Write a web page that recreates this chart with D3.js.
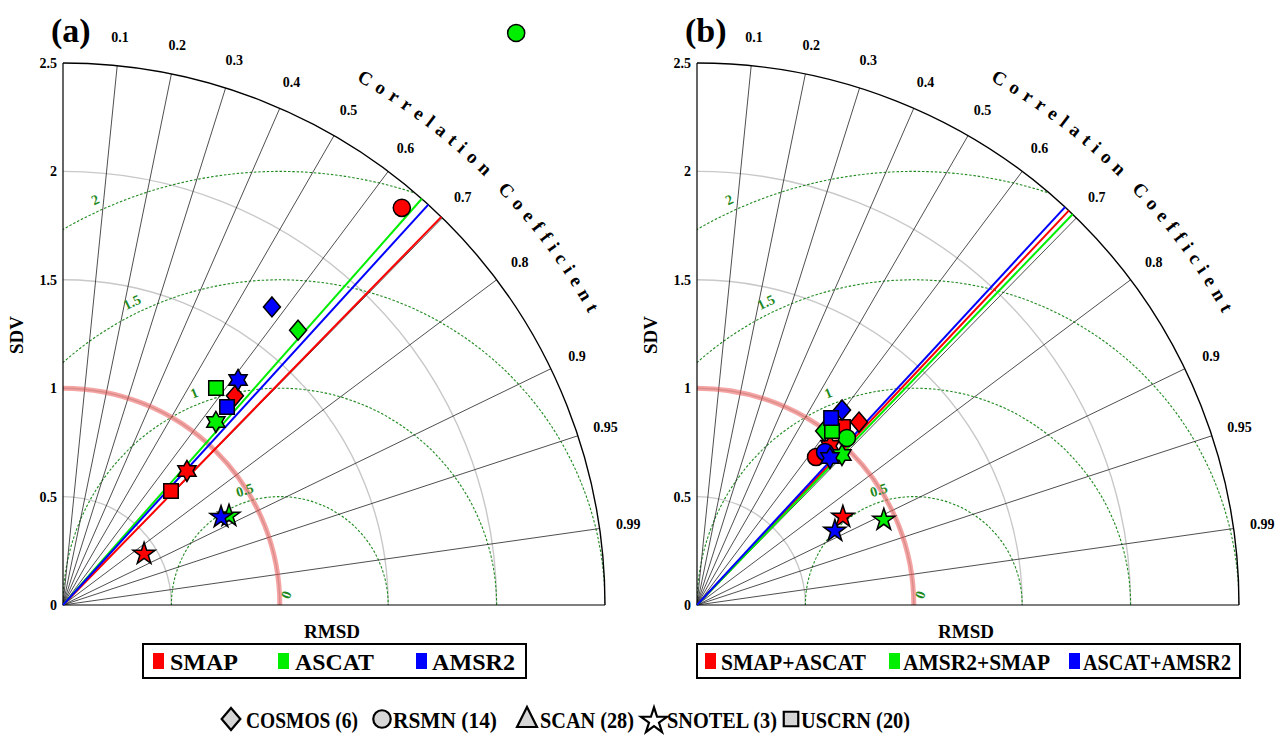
<!DOCTYPE html>
<html lang="en">
<head>
<meta charset="UTF-8">
<title>Taylor diagrams</title>
<script src="https://d3js.org/d3.v7.min.js"></script>
<style>
  body { margin: 0; background: #fff; }
  svg { display: block; }
  svg text { font-family: "Liberation Serif", "DejaVu Serif", serif; font-weight: bold; }
</style>
</head>
<body>
<svg width="1276" height="737"></svg>
<script>
// networks (marker shapes) and station counts
const networks = ["COSMOS", "RSMN", "SCAN", "SNOTEL", "USCRN"];
const networkCounts = [6, 14, 28, 3, 20];

const productsA = ["SMAP", "ASCAT", "AMSR2"];
const productsB = ["SMAP+ASCAT", "AMSR2+SMAP", "ASCAT+AMSR2"];
const productColors = ["#ff0000", "#00ee00", "#0000ff"];

// (a) single products: normalised SD and correlation, in network order
const sdSMAP  = [1.249, 2.408, 0.842, 0.442, 0.724];
const rSMAP   = [0.635, 0.649, 0.679, 0.846, 0.688];
const sdASCAT = [1.668, 3.366, 1.100, 0.869, 1.225];
const rASCAT  = [0.650, 0.621, 0.641, 0.881, 0.576];
const sdAMSR2 = [1.679, null, 1.315, 0.834, 1.186];
const rAMSR2  = [0.574, null, 0.614, 0.874, 0.638];

// (b) merged products
const sdSmapAscat  = [1.127, 0.876, 0.956, 0.786, 1.062];
const rSmapAscat   = [0.663, 0.627, 0.642, 0.856, 0.634];
const sdAmsr2Smap  = [0.994, 1.035, 0.962, 0.947, 1.016];
const rAmsr2Smap   = [0.590, 0.668, 0.695, 0.910, 0.613];
const sdAscatAmsr2 = [1.121, 0.920, 0.914, 0.722, 1.061];
const rAscatAmsr2  = [0.597, 0.642, 0.671, 0.881, 0.583];

// mean correlation lines per product
const meanRA = [0.698, 0.662, 0.674];
const meanRB = [0.686, 0.693, 0.679];

const sdTicks = [0, 0.5, 1, 1.5, 2, 2.5];
const sdArcs = [0.5, 1, 1.5, 2];
const corrTicks = [0.1, 0.2, 0.3, 0.4, 0.5, 0.6, 0.7, 0.8, 0.9, 0.95, 0.99];
const rmsdTicks = [0, 0.5, 1, 1.5, 2];

const svg = d3.select("svg");
const rad = d3.scaleLinear().domain([0, 2.5]).range([0, 542]);
const R = rad(2.5);
const gridGreen = "#1f8a1f";
const deg = Math.PI / 180;

// marker shapes
function diamond(s) { return `M0,${-s}L${s * 0.85},0L0,${s}L${-s * 0.85},0Z`; }
function hexagram(s) {
  const pts = [];
  for (let i = 0; i < 12; i++) {
    const a = -Math.PI / 2 + i * Math.PI / 6;
    const rr = i % 2 === 0 ? s : s / Math.sqrt(3);
    pts.push([rr * Math.cos(a), rr * Math.sin(a)]);
  }
  return "M" + pts.join("L") + "Z";
}
const plotShapes = {
  COSMOS: () => diamond(10),
  RSMN: () => d3.symbol(d3.symbolCircle, 230)(),
  SCAN: () => hexagram(10.5),
  SNOTEL: () => d3.symbol(d3.symbolStar, 150)(),
  USCRN: () => d3.symbol(d3.symbolSquare, 210)()
};

// where each RMSD label sits on its circle (degrees, seen from the reference point)
const rmsdLabelAngle = { 0: 58, 0.5: 107, 1: 112, 1.5: 116, 2: 114.5 };

const panels = [
  { ox: 63, oy: 605, tag: "(a)", products: productsA, sd: [sdSMAP, sdASCAT, sdAMSR2], r: [rSMAP, rASCAT, rAMSR2], mean: meanRA,
    box: [143, 644, 383, 34], sq: [153, 278, 416], tx: [[170, 68], [295, 79], [432, 83]] },
  { ox: 697, oy: 605, tag: "(b)", products: productsB, sd: [sdSmapAscat, sdAmsr2Smap, sdAscatAmsr2], r: [rSmapAscat, rAmsr2Smap, rAscatAmsr2], mean: meanRB,
    box: [697, 644, 543, 34], sq: [705, 889, 1069], tx: [[721, 145], [903, 147], [1083, 148]] }
];

panels.forEach((p, pi) => {
  const g = svg.append("g").attr("transform", `translate(${p.ox},${p.oy})`);
  const pt = (sd, c) => [rad(sd) * c, -rad(sd) * Math.sqrt(1 - c * c)];
  const arcPath = (rr, a0, a1) => {
    const p0 = [rr * Math.cos(a0), -rr * Math.sin(a0)];
    const p1 = [rr * Math.cos(a1), -rr * Math.sin(a1)];
    return `M${p0}A${rr},${rr} 0 0 1 ${p1}`;
  };

  // clip to the quarter circle
  g.append("clipPath").attr("id", "clip" + pi)
    .append("path").attr("d", `M0,0L0,${-R}A${R},${R} 0 0 1 ${R},0Z`);

  // SD arcs
  g.selectAll(".sdarc").data(sdArcs).join("path")
    .attr("d", d => arcPath(rad(d), Math.PI / 2, 0))
    .attr("fill", "none").attr("stroke", "#c8c8c8").attr("stroke-width", 1.4);

  // RMSD circles around the reference point
  const rm = g.append("g").attr("clip-path", `url(#clip${pi})`);
  rm.selectAll("circle").data(rmsdTicks.filter(d => d > 0)).join("circle")
    .attr("cx", rad(1)).attr("cy", 0).attr("r", d => rad(d))
    .attr("fill", "none").attr("stroke", gridGreen).attr("stroke-width", 1.1)
    .attr("stroke-dasharray", "2.5,1.8");

  // correlation rays
  g.selectAll(".ray").data(corrTicks).join("line")
    .attr("x1", 0).attr("y1", 0)
    .attr("x2", d => R * d).attr("y2", d => -R * Math.sqrt(1 - d * d))
    .attr("stroke", "#222").attr("stroke-width", 0.8);

  // reference SD = 1 arc
  g.append("path").attr("d", arcPath(rad(1), Math.PI / 2, 0))
    .attr("fill", "none").attr("stroke", "#ec5a5a").attr("stroke-opacity", 0.55).attr("stroke-width", 5);

  // frame
  g.append("path").attr("d", `M0,${-R}L0,0L${R},0`)
    .attr("fill", "none").attr("stroke", "#000").attr("stroke-width", 1.2);
  g.append("path").attr("d", arcPath(R, Math.PI / 2, 0))
    .attr("fill", "none").attr("stroke", "#000").attr("stroke-width", 1.4);

  // RMSD labels
  g.selectAll(".rmlab").data(rmsdTicks).join("text")
    .attr("transform", d => {
      const a = rmsdLabelAngle[d] * deg;
      const x = rad(1) + rad(d + 0.055) * Math.cos(a);
      const y = -rad(d + 0.055) * Math.sin(a);
      const rot = d === 0 ? -70 : -(rmsdLabelAngle[d] - 90);
      return `translate(${x},${y}) rotate(${rot})`;
    })
    .attr("text-anchor", "middle").attr("dy", "0.35em")
    .attr("fill", gridGreen).attr("font-size", 14)
    .text(d => d);

  // SD tick labels
  g.selectAll(".sdlab").data(sdTicks).join("text")
    .attr("x", -6).attr("y", d => -rad(d)).attr("dy", "0.35em")
    .attr("text-anchor", "end").attr("font-size", 14).text(d => d);

  // correlation tick labels
  g.selectAll(".clab").data(corrTicks).join("text")
    .attr("x", d => 571 * d).attr("y", d => -571 * Math.sqrt(1 - d * d))
    .attr("dy", "0.35em").attr("text-anchor", "middle").attr("font-size", 14)
    .text(d => d);

  // arc title, one glyph at a time along the circle
  const title = "Correlation Coefficient";
  const tr = 601, aStart = 60.8, aEnd = 29.0, fs = 19;
  const probe = g.append("text").attr("font-size", fs).attr("visibility", "hidden");
  const widths = Array.from(title).map(ch => {
    probe.text(ch === " " ? "\u00a0" : ch);
    return probe.node().getComputedTextLength();
  });
  probe.remove();
  const arcLen = tr * (aStart - aEnd) * deg;
  const gap = (arcLen - d3.sum(widths)) / (title.length - 1);
  let s = 0;
  Array.from(title).forEach((ch, i) => {
    const mid = s + widths[i] / 2;
    s += widths[i] + gap;
    if (ch === " ") return;
    const a = aStart * deg - mid / tr;
    g.append("text")
      .attr("transform", `translate(${tr * Math.cos(a)},${-tr * Math.sin(a)}) rotate(${90 - a / deg})`)
      .attr("text-anchor", "middle").attr("font-size", fs).text(ch);
  });

  // axis titles
  g.append("text").attr("transform", "translate(-40,-270) rotate(-90)")
    .attr("text-anchor", "middle").attr("font-size", 19).text("SDV");
  g.append("text").attr("x", 269).attr("y", 33)
    .attr("text-anchor", "middle").attr("font-size", 19).text("RMSD");
  g.append("text").attr("x", -12).attr("y", -563).attr("font-size", 34).text(p.tag);

  // mean correlation lines
  g.selectAll(".mean").data(p.mean).join("line")
    .attr("x1", 0).attr("y1", 0)
    .attr("x2", d => R * d).attr("y2", d => -R * Math.sqrt(1 - d * d))
    .attr("stroke", (d, i) => productColors[i]).attr("stroke-width", 2);

  // markers
  p.products.forEach((prod, k) => {
    networks.forEach((net, j) => {
      const sd = p.sd[k][j], c = p.r[k][j];
      if (sd == null) return;
      const [x, y] = pt(sd, c);
      g.append("path").attr("d", plotShapes[net]())
        .attr("transform", `translate(${x},${y})`)
        .attr("fill", productColors[k]).attr("stroke", "#000").attr("stroke-width", 1.5);
    });
  });

  // product legend
  const lg = svg.append("g");
  lg.append("rect").attr("x", p.box[0]).attr("y", p.box[1]).attr("width", p.box[2]).attr("height", p.box[3])
    .attr("fill", "#fff").attr("stroke", "#000").attr("stroke-width", 2);
  p.products.forEach((prod, k) => {
    lg.append("rect").attr("x", p.sq[k]).attr("y", 653).attr("width", 11).attr("height", 16)
      .attr("fill", productColors[k]);
    lg.append("text").attr("x", p.tx[k][0]).attr("y", 670).attr("font-size", 24)
      .attr("textLength", p.tx[k][1]).attr("lengthAdjust", "spacingAndGlyphs").text(prod);
  });
});

// network legend
const legendShapes = {
  COSMOS: diamond(11),
  RSMN: d3.symbol(d3.symbolCircle, 240)(),
  SCAN: "M0,-12L10,8L-10,8Z",
  SNOTEL: d3.symbol(d3.symbolStar, 210)(),
  USCRN: d3.symbol(d3.symbolSquare, 210)()
};
const nlx = [231, 382, 527, 654, 791];
const nlText = [[246, 112], [393, 104], [540, 94], [667, 110], [801, 109]];
networks.forEach((net, j) => {
  svg.append("path").attr("d", legendShapes[net])
    .attr("transform", `translate(${nlx[j]},${net === "SNOTEL" ? 721 : 719})`)
    .attr("fill", net === "SNOTEL" ? "#fff" : "#d6d6d6").attr("stroke", "#000").attr("stroke-width", 2.2);
  svg.append("text").attr("x", nlText[j][0]).attr("y", 728).attr("font-size", 24)
    .attr("textLength", nlText[j][1]).attr("lengthAdjust", "spacingAndGlyphs")
    .text(`${net} (${networkCounts[j]})`);
});
</script>
</body>
</html>
